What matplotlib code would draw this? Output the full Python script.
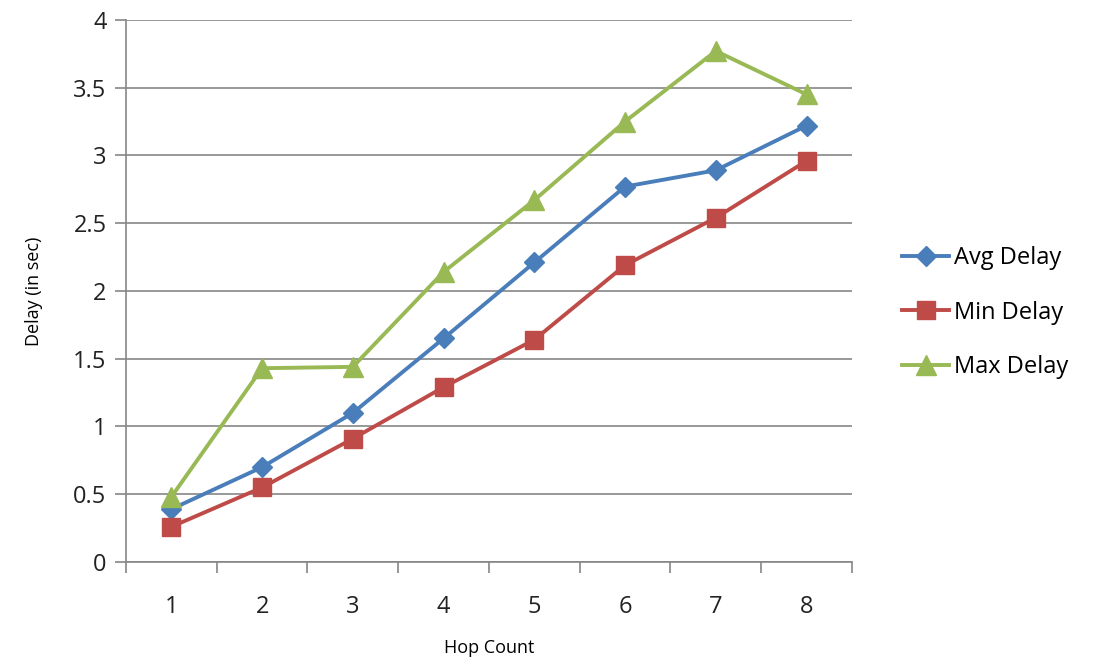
import matplotlib
matplotlib.use("Agg")
import matplotlib.pyplot as plt

plt.rcParams['font.family'] = ['Open Sans', 'DejaVu Sans']

hops = [1, 2, 3, 4, 5, 6, 7, 8]
avg_delay = [0.39, 0.70, 1.10, 1.65, 2.21, 2.77, 2.89, 3.22]
min_delay = [0.26, 0.55, 0.91, 1.29, 1.64, 2.19, 2.54, 2.96]
max_delay = [0.48, 1.43, 1.44, 2.14, 2.67, 3.25, 3.77, 3.45]
y_ticks = [0, 0.5, 1, 1.5, 2, 2.5, 3, 3.5, 4]
y_labels = ['0', '0.5', '1', '1.5', '2', '2.5', '3', '3.5', '4']

fig = plt.figure(figsize=(11, 6.62), dpi=100)
ax = fig.add_axes([0.1145, 0.151, 0.66, 0.819])

ax.plot(hops, avg_delay, color='#4A7EBB', lw=2.8, marker='D', ms=10,
        label='Avg Delay', zorder=3)
ax.plot(hops, min_delay, color='#BE4B48', lw=2.8, marker='s', ms=13,
        label='Min Delay', zorder=3)
ax.plot(hops, max_delay, color='#98B954', lw=2.8, marker='^', ms=14,
        label='Max Delay', zorder=3)

ax.set_xlim(0.5, 8.5)
ax.set_ylim(0, 4)
ax.set_yticks(y_ticks)
ax.set_yticklabels(y_labels)
ax.set_xticks(hops)
ax.set_xticks([h + 0.5 for h in [0] + hops], minor=True)
ax.tick_params(axis='x', which='major', length=0, pad=24, labelsize=17, labelcolor='#222222')
ax.tick_params(axis='x', which='minor', length=8, width=1.2, color='#868686', direction='out')
ax.tick_params(axis='y', length=8, width=1.2, color='#868686', labelsize=17,
               labelcolor='#222222', pad=6)

ax.grid(axis='y', color='#868686', lw=1.2)
ax.set_axisbelow(True)
for s in ['top', 'right']:
    ax.spines[s].set_visible(False)
for s in ['left', 'bottom']:
    ax.spines[s].set_color('#868686')
    ax.spines[s].set_linewidth(1.2)

ax.set_xlabel('Hop Count', fontsize=13, labelpad=14)
ax.set_ylabel('Delay (in sec)', fontsize=13, labelpad=22)

ax.legend(loc='center left', bbox_to_anchor=(1.04, 0.46), frameon=False,
          fontsize=17, handlelength=2.0, labelspacing=1.3, handletextpad=0.2)

fig.savefig('out.png', dpi=100)
